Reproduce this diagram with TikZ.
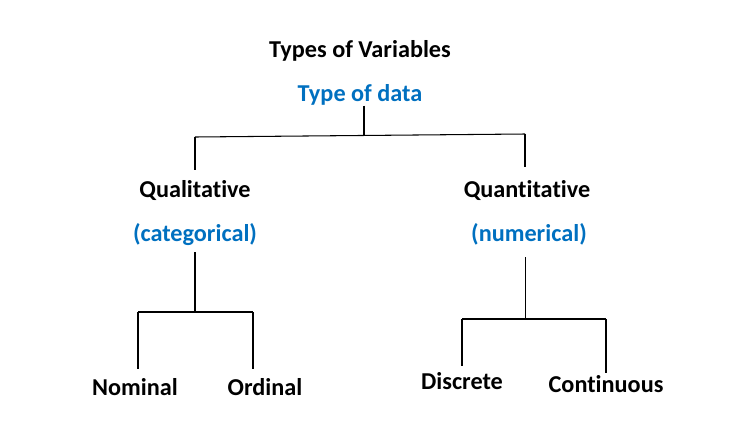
\documentclass[tikz,border=0pt]{standalone}
\usepackage{fontspec}
\setmainfont{Carlito}[Ligatures=NoCommon]
\usetikzlibrary{positioning}
\definecolor{datablue}{RGB}{0,112,192}

\begin{document}
\begin{tikzpicture}[x=0.02cm,y=-0.02cm,
  lbl/.style={font=\bfseries\fontsize{13.8}{16}\selectfont,text=black,inner sep=0pt,text height=9pt,text depth=2.5pt,anchor=base},
  sub/.style={lbl,text=datablue},
  link/.style={draw=black,line width=0.6pt}]
\useasboundingbox (0,0) rectangle (750,447);

% labels
\node[lbl] (title) at (360,57) {Types of Variables};
\node[sub] (data) at (360,101) {Type of data};
\node[lbl] (qual) at (195,197) {Qualitative};
\node[sub] (categ) at (195,241) {(categorical)};
\node[lbl] (quant) at (527,197) {Quantitative};
\node[sub] (numer) at (529,241) {(numerical)};
\node[lbl] (nom) at (135,395) {Nominal};
\node[lbl] (ord) at (265,395) {Ordinal};
\node[lbl] (disc) at (462,389) {Discrete};
\node[lbl] (cont) at (606,392) {Continuous};

% junctions
\coordinate (top) at (364,135.5);
\coordinate (tl) at (195,137);
\coordinate (tr) at (525,134);
\coordinate (lj) at (195,312);
\coordinate (ln) at (138,312);
\coordinate (lo) at (253,312);
\coordinate (rj) at (525.5,319);
\coordinate (rd) at (462,319);
\coordinate (rc) at (606,319);

% upper split
\draw[link] (top |- data.south) -- (top);
\draw[link] (tl) -- (tr);
\draw[link,shorten >=6pt] (tl) -- (qual.north);
\draw[link,shorten >=8pt] (tr) -- (tr |- quant.north);

% left split
\draw[link,shorten <=3.8pt] (categ.south) -- (lj);
\draw[link] (ln) -- (lo);
\draw[link,shorten >=5.7pt] (ln) -- (ln |- nom.north);
\draw[link,shorten >=5.7pt] (lo) -- (lo |- ord.north);

% right split
\draw[link,shorten <=6.6pt] (rj |- numer.south) -- (rj);
\draw[link] (rd) -- (rc);
\draw[link,shorten >=4pt] (rd) -- (disc.north);
\draw[link,shorten >=1.7pt] (rc) -- (cont.north);

\end{tikzpicture}
\end{document}
